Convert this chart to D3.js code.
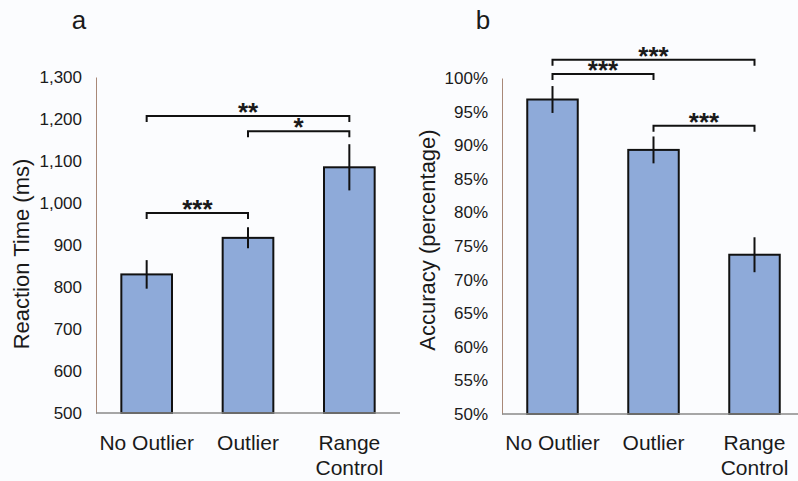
<!DOCTYPE html>
<html><head><meta charset="utf-8">
<script src="https://cdn.jsdelivr.net/npm/d3@7"></script>
<style>
html,body{margin:0;padding:0;background:#fbfcfe;}
text{font-family:"Liberation Sans",Arial,Helvetica,sans-serif;fill:#1a1a1a;}
</style></head>
<body><svg id="c" width="798" height="481"></svg>
<script>
// ---- data ----
const categories = ["No Outlier", "Outlier", "Range Control"];
const rtMeans = [830, 917, 1085];
const rtErrors = [34, 25, 55];
const rtTicks = [500, 600, 700, 800, 900, 1000, 1100, 1200, 1300];
const accMeans = [0.968, 0.893, 0.737];
const accErrors = [0.020, 0.020, 0.026];
const accTicks = [0.50, 0.55, 0.60, 0.65, 0.70, 0.75, 0.80, 0.85, 0.90, 0.95, 1.00];
// significance brackets: [from index, to index, level (data units), label]
const rtSig = [[0, 2, 1207, "**"], [1, 2, 1171, "*"], [0, 1, 976, "***"]];
const accSig = [[0, 2, 1.027, "***"], [0, 1, 1.006, "***"], [1, 2, 0.929, "***"]];

const svg = d3.select("#c");
svg.append("rect").attr("width", 798).attr("height", 481).attr("fill", "#fbfcfe");

function panel(opts) {
  const g = svg.append("g");
  const x = d3.scaleBand().domain(categories).range(opts.xr).paddingInner(0.5).paddingOuter(0.25);
  const y = d3.scaleLinear().domain(opts.domain).range(opts.yr);
  // bars
  g.selectAll("rect.bar").data(opts.means).join("rect")
    .attr("x", (d, i) => x(categories[i]))
    .attr("width", x.bandwidth())
    .attr("y", d => y(d))
    .attr("height", d => y(opts.domain[0]) - y(d))
    .attr("fill", "#8eaad9").attr("stroke", "#111").attr("stroke-width", 2);
  // error bars
  g.selectAll("line.err").data(opts.means).join("line")
    .attr("x1", (d, i) => x(categories[i]) + x.bandwidth() / 2)
    .attr("x2", (d, i) => x(categories[i]) + x.bandwidth() / 2)
    .attr("y1", (d, i) => y(d + opts.errs[i]))
    .attr("y2", (d, i) => y(d - opts.errs[i]))
    .attr("stroke", "#111").attr("stroke-width", 2);
  // left axis
  const ax = g.append("g").attr("transform", `translate(${opts.xr[0]},0)`)
    .call(d3.axisLeft(y).tickValues(opts.ticks).tickSize(0).tickPadding(14).tickFormat(opts.fmt));
  ax.select(".domain").attr("stroke", "#a88878").attr("stroke-width", 1);
  ax.selectAll("text").style("font-size", "17px").attr("fill", "#1a1a1a")
    .style("font-family", "'Liberation Sans',Arial,sans-serif");
  // baseline
  g.append("line").attr("x1", opts.xr[0]).attr("x2", opts.baseEnd)
    .attr("y1", y(opts.domain[0])).attr("y2", y(opts.domain[0]))
    .attr("stroke", "#8a8a88").attr("stroke-width", 1.3);
  // category labels
  categories.forEach((c, i) => {
    const cx = x(c) + x.bandwidth() / 2;
    const words = c === "Range Control" ? ["Range", "Control"] : [c];
    words.forEach((w, j) => {
      g.append("text").attr("x", cx).attr("y", 450 + j * 25)
        .attr("text-anchor", "middle").style("font-size", "21px").text(w);
    });
  });
  // significance brackets
  opts.sig.forEach(s => {
    const x1 = x(categories[s[0]]) + x.bandwidth() / 2;
    const x2 = x(categories[s[1]]) + x.bandwidth() / 2;
    const yy = y(s[2]);
    g.append("path").attr("d", `M${x1},${yy + 6}V${yy}H${x2}V${yy + 6}`)
      .attr("fill", "none").attr("stroke", "#111").attr("stroke-width", 2);
    g.append("text").attr("x", (x1 + x2) / 2).attr("y", yy + 5)
      .attr("text-anchor", "middle").style("font-size", "26px").style("font-weight", "bold").text(s[3]);
  });
  // y label
  g.append("text").attr("transform", `translate(${opts.ylx},${opts.yly}) rotate(-90)`)
    .attr("text-anchor", "middle").style("font-size", "22px").text(opts.ylabel);
  // panel letter
  g.append("text").attr("x", opts.lx).attr("y", 29).attr("text-anchor", "middle")
    .style("font-size", "26px").text(opts.letter);
}

panel({xr: [96, 400], baseEnd: 400, domain: [500, 1300], yr: [413, 77], means: rtMeans, errs: rtErrors,
  ticks: rtTicks, fmt: d3.format(","), sig: rtSig, ylabel: "Reaction Time (ms)", ylx: 29, yly: 254,
  letter: "a", lx: 79});
panel({xr: [502, 805], baseEnd: 798, domain: [0.5, 1.0], yr: [414, 78], means: accMeans, errs: accErrors,
  ticks: accTicks, fmt: d3.format(".0%"), sig: accSig, ylabel: "Accuracy (percentage)", ylx: 435, yly: 240,
  letter: "b", lx: 483});
</script></body></html>
